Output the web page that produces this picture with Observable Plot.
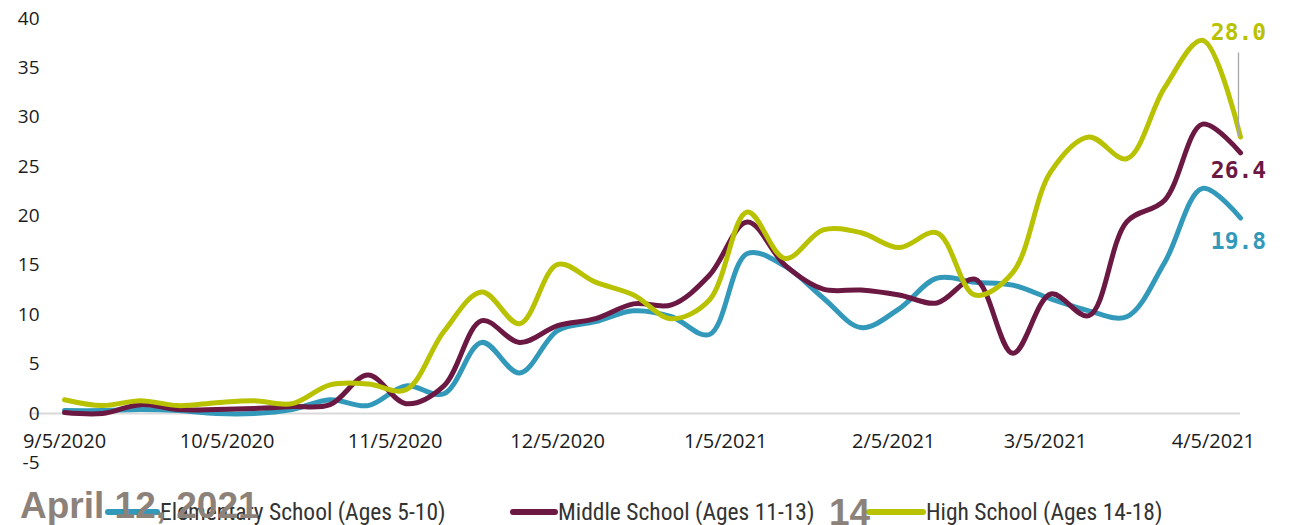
<!DOCTYPE html>
<html><head><meta charset="utf-8">
<script src="https://cdn.jsdelivr.net/npm/d3@7"></script>
<script src="https://cdn.jsdelivr.net/npm/@observablehq/plot@0.6"></script>
<style>
body{margin:0;background:#fff;}
#wrap{position:relative;width:1291px;height:525px;overflow:hidden;background:#fff;}
#chart svg{display:block;}
.leg{position:absolute;top:500px;height:24px;line-height:24px;font-family:"Liberation Sans Narrow","Arial Narrow","Roboto Condensed",sans-serif;font-size:23.5px;color:#333;display:flex;align-items:center;white-space:nowrap;}
.sw{display:inline-block;height:6px;border-radius:3px;}
.foot{position:absolute;font-family:"Liberation Sans Narrow","Arial Narrow",sans-serif;font-weight:bold;color:#8c827a;font-size:37px;line-height:37px;}
</style></head>
<body><div id="wrap"><div id="chart"></div><div id="legend"></div></div>
<script>
const weeks = ["2020-09-05","2020-09-12","2020-09-19","2020-09-26","2020-10-03","2020-10-10","2020-10-17","2020-10-24","2020-10-31","2020-11-07","2020-11-14","2020-11-21","2020-11-28","2020-12-05","2020-12-12","2020-12-19","2020-12-26","2021-01-02","2021-01-09","2021-01-16","2021-01-23","2021-01-30","2021-02-06","2021-02-13","2021-02-20","2021-02-27","2021-03-06","2021-03-13","2021-03-20","2021-03-27","2021-04-03","2021-04-10"];
const elementary = [0.3,0.3,0.4,0.3,0.0,0.0,0.4,1.4,0.8,2.8,2.0,7.2,4.1,8.4,9.3,10.4,9.8,8.0,16.2,14.9,11.7,8.7,10.6,13.7,13.3,13.0,11.6,10.4,9.8,15.3,22.8,19.8];
const middle = [0.1,0.0,0.9,0.4,0.4,0.5,0.7,0.9,3.9,1.0,2.8,9.4,7.2,8.9,9.6,11.1,11.0,14.0,19.4,15.0,12.6,12.5,12.0,11.2,13.6,6.1,12.1,9.9,19.4,21.6,29.3,26.4];
const high = [1.4,0.8,1.3,0.8,1.1,1.3,1.0,2.9,3.0,2.4,8.3,12.3,9.1,15.1,13.3,12.0,9.6,11.5,20.4,15.7,18.6,18.3,16.8,18.3,12.0,14.3,24.5,28.0,25.8,33.0,37.8,28.0];
const seriesNames = ["Elementary School (Ages 5-10)","Middle School (Ages 11-13)","High School (Ages 14-18)"];
const seriesColors = ["#3399ba","#6b1943","#b8c200"];
const endLabels = ["19.8","26.4","28.0"];
const yTicks = [-5,0,5,10,15,20,25,30,35,40];
const xTicks = ["2020-09-05","2020-10-05","2020-11-05","2020-12-05","2021-01-05","2021-02-05","2021-03-05","2021-04-05"];
const xDomain = ["2020-08-30","2021-04-10"];
const footerDate = "April 12, 2021";
const pageNumber = "14";

const parse = d3.utcParse("%Y-%m-%d");
const fmt = d3.utcFormat("%-m/%-d/%Y");
const seriesValues = [elementary, middle, high];
const data = [];
seriesNames.forEach((name, s) => weeks.forEach((w, i) => data.push({series: name, date: parse(w), value: seriesValues[s][i]})));
const last = seriesNames.map((name, s) => ({series: name, date: parse(weeks[weeks.length - 1]), value: seriesValues[s][weeks.length - 1], label: endLabels[s]}));
const labelFont = {fontFamily: "DejaVu Sans Mono", fontSize: 23, fontWeight: "bold"};

const chart = Plot.plot({
  width: 1291, height: 490,
  marginLeft: 31.5, marginRight: 51, marginTop: 18, marginBottom: 27.6,
  style: {fontFamily: "Open Sans", background: "#fff"},
  x: {type: "utc", domain: xDomain.map(parse), axis: null},
  y: {domain: [-5, 40]},
  color: {domain: seriesNames, range: seriesColors},
  marks: [
    Plot.ruleY([0], {stroke: "#d9d9d9", strokeWidth: 2}),
    Plot.axisY({ticks: yTicks, tickFormat: d => String(d), tickSize: 0, tickPadding: -7.5, fontSize: 19, color: "#1b1b1b", label: null}),
    Plot.text(xTicks.map(parse), {x: d => d, y: () => 0, dy: 28, text: d => fmt(d), fontSize: 20, fill: "#1b1b1b"}),
    Plot.line(data, {x: "date", y: "value", z: "series", stroke: "series", strokeWidth: 5, curve: "catmull-rom", strokeLinecap: "round", strokeLinejoin: "round"}),
    Plot.ruleX(last.filter(d => d.series === seriesNames[2]), {x: "date", y1: "value", y2: "value", insetTop: -84, dx: -2, stroke: "#a6a6a6", strokeWidth: 1.3}),
    Plot.text(last.filter(d => d.series === seriesNames[2]), {x: "date", y: "value", text: "label", fill: "series", dy: -104, dx: -2, ...labelFont}),
    Plot.text(last.filter(d => d.series === seriesNames[1]), {x: "date", y: "value", text: "label", fill: "series", dy: 18, dx: -2, ...labelFont}),
    Plot.text(last.filter(d => d.series === seriesNames[0]), {x: "date", y: "value", text: "label", fill: "series", dy: 24, dx: -2, ...labelFont})
  ]
});
document.getElementById("chart").appendChild(chart);

// legend below the chart
const legend = document.getElementById("legend");
const legLeft = [105, 510, 866];
const swWidth = [55, 48, 60];
seriesNames.forEach((name, i) => {
  const item = document.createElement("div");
  item.className = "leg";
  item.style.left = legLeft[i] + "px";
  const sw = document.createElement("span");
  sw.className = "sw";
  sw.style.width = swWidth[i] + "px";
  sw.style.background = seriesColors[i];
  const t = document.createElement("span");
  t.textContent = name;
  item.appendChild(sw); item.appendChild(t);
  legend.appendChild(item);
});
const f1 = document.createElement("div");
f1.className = "foot"; f1.style.left = "20px"; f1.style.top = "487px"; f1.textContent = footerDate;
const f2 = document.createElement("div");
f2.className = "foot"; f2.style.left = "829px"; f2.style.top = "494px"; f2.textContent = pageNumber;
legend.appendChild(f1); legend.appendChild(f2);
</script>
</body></html>
